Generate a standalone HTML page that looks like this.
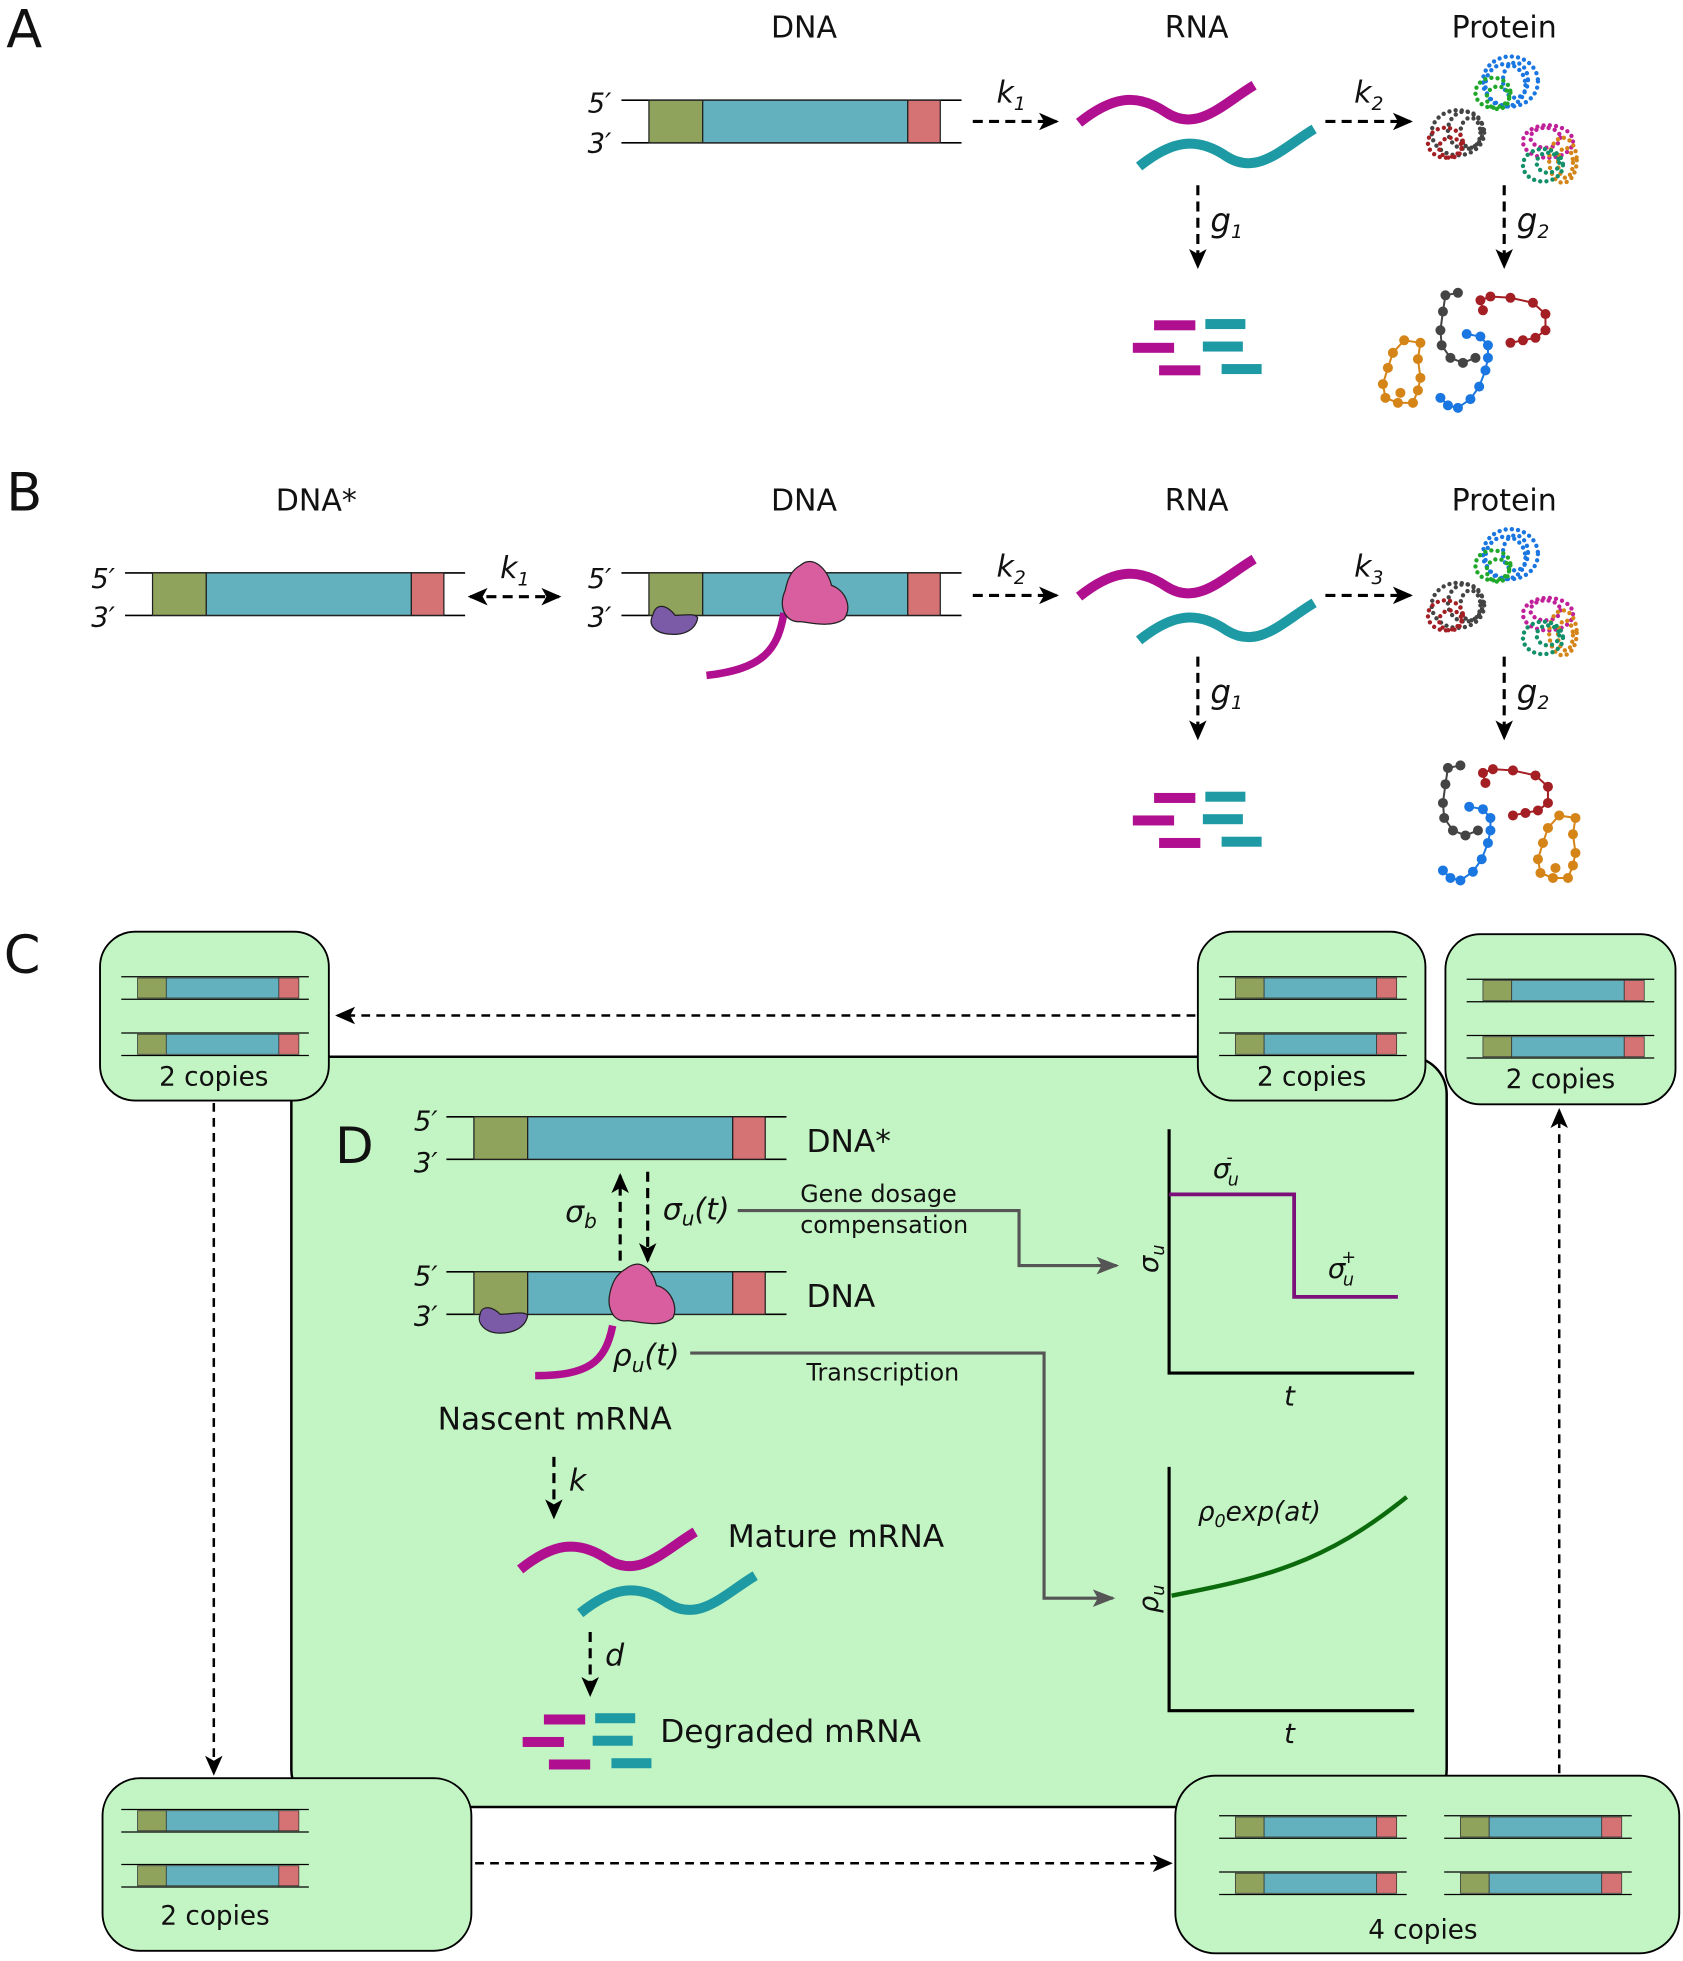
<!DOCTYPE html>
<html><head><meta charset="utf-8"><style>
html,body{margin:0;padding:0;background:#fff}
svg{display:block}
text{font-family:"DejaVu Sans","Liberation Sans",sans-serif;fill:#111}
.it{font-style:italic}
</style></head><body>
<svg width="1683" height="1961" viewBox="0 0 1346 1568" xmlns="http://www.w3.org/2000/svg">
<defs>
<marker id="ahs" markerWidth="16" markerHeight="14" refX="14" refY="7" orient="auto-start-reverse" markerUnits="userSpaceOnUse"><path d="M0,0 L16,7 L0,14 L4,7 Z" fill="#000"/></marker>
<marker id="ahg" markerWidth="18" markerHeight="14" refX="16" refY="7" orient="auto" markerUnits="userSpaceOnUse"><path d="M0,0 L18,7 L0,14 L4,7 Z" fill="#555"/></marker>
<g id="mini">
<line x1="0" y1="0" x2="150" y2="0" stroke="#000" stroke-width="1"/>
<line x1="0" y1="18" x2="150" y2="18" stroke="#000" stroke-width="1"/>
<rect x="13" y="1" width="23" height="16" fill="#8fa35c" stroke="#333" stroke-width="0.6"/>
<rect x="36" y="1" width="90" height="16" fill="#63b0bf" stroke="#333" stroke-width="0.6"/>
<rect x="126" y="1" width="16" height="16" fill="#d57273" stroke="#333" stroke-width="0.6"/>
</g>
<g id="gene">
<line x1="0" y1="0" x2="272" y2="0" stroke="#000" stroke-width="1.3"/>
<line x1="0" y1="34" x2="272" y2="34" stroke="#000" stroke-width="1.3"/>
<rect x="22" y="0" width="43" height="34" fill="#8fa35c" stroke="#222" stroke-width="1"/>
<rect x="65" y="0" width="164" height="34" fill="#63b0bf" stroke="#222" stroke-width="1"/>
<rect x="229" y="0" width="26" height="34" fill="#d57273" stroke="#222" stroke-width="1"/>
</g>
<g id="waves">
<path d="M0,20 C25,0 45,-5 70,12 C95,28 115,5 140,-10" fill="none" stroke="#b0108f" stroke-width="8"/>
<path d="M48,55 C73,35 93,30 118,47 C143,63 163,40 188,25" fill="none" stroke="#1d9aa4" stroke-width="8"/>
</g>
<g id="frag">
<rect x="17" y="0" width="33" height="8" fill="#b0108f"/>
<rect x="58" y="-1" width="32" height="8" fill="#1d9aa4"/>
<rect x="0" y="18" width="33" height="8" fill="#b0108f"/>
<rect x="56" y="17" width="32" height="8" fill="#1d9aa4"/>
<rect x="21" y="36" width="33" height="8" fill="#b0108f"/>
<rect x="71" y="35" width="32" height="8" fill="#1d9aa4"/>
</g>
<g id="prot" fill="none" stroke-linecap="round" stroke-width="3.5" stroke-dasharray="0 5">
<ellipse cx="70" cy="25" rx="22" ry="20" stroke="#1a76e0"/><ellipse cx="66" cy="28" rx="16" ry="17" stroke="#1a76e0"/><ellipse cx="74" cy="24" rx="10" ry="14" stroke="#1a76e0"/>
<ellipse cx="56" cy="34" rx="14" ry="12" stroke="#1fa82a"/><ellipse cx="60" cy="38" rx="9" ry="9" stroke="#1fa82a"/>
<ellipse cx="28" cy="66" rx="21" ry="18" stroke="#444"/><ellipse cx="34" cy="64" rx="14" ry="15" stroke="#444"/><ellipse cx="38" cy="66" rx="8" ry="12" stroke="#444"/>
<ellipse cx="18" cy="74" rx="14" ry="12" stroke="#a31f24"/><ellipse cx="22" cy="78" rx="9" ry="8" stroke="#a31f24"/>
<ellipse cx="100" cy="73" rx="20" ry="13" stroke="#c0209a"/><ellipse cx="98" cy="70" rx="12" ry="8" stroke="#c0209a"/>
<ellipse cx="112" cy="88" rx="11" ry="18" stroke="#d58418"/><ellipse cx="114" cy="90" rx="6" ry="12" stroke="#d58418"/>
<ellipse cx="96" cy="92" rx="16" ry="13" stroke="#12906a"/><ellipse cx="100" cy="90" rx="9" ry="8" stroke="#12906a"/>
</g>
<g id="orange">
<path d="M55,40 L68,42 L66,55 L68,70 L66,80 L62,90 L50,90 L40,86 L38,75 L42,62 L46,50 Z" fill="none" stroke="#d58418" stroke-width="1.6"/>
<g fill="#d58418"><circle cx="55" cy="40" r="4"/><circle cx="68" cy="42" r="4"/><circle cx="66" cy="55" r="4"/><circle cx="68" cy="70" r="4"/><circle cx="66" cy="80" r="4"/><circle cx="62" cy="90" r="4"/><circle cx="50" cy="90" r="4"/><circle cx="40" cy="86" r="4"/><circle cx="38" cy="75" r="4"/><circle cx="42" cy="62" r="4"/><circle cx="46" cy="50" r="4"/><circle cx="52" cy="82" r="4"/></g>
</g>
<g id="deg3" fill="none" stroke-width="1.6">
<path stroke="#444" d="M108,0 L98,2 L96,15 L94,30 L95,42 L102,52 L112,56 L122,52"/>
<path stroke="#1a76e0" d="M115,33 L126,35 L132,42 L132,52 L130,62 L125,75 L118,85 L108,92 L100,90 L94,84"/>
<path stroke="#a31f24" d="M128,14 L126,6 L134,3 L150,4 L168,8 L178,17 L178,30 L170,36 L160,38 L150,40"/>
<g fill="#444" stroke="none"><circle cx="108" cy="0" r="4"/><circle cx="98" cy="2" r="4"/><circle cx="96" cy="15" r="4"/><circle cx="94" cy="30" r="4"/><circle cx="95" cy="42" r="4"/><circle cx="102" cy="52" r="4"/><circle cx="112" cy="56" r="4"/><circle cx="122" cy="52" r="4"/></g>
<g fill="#1a76e0" stroke="none"><circle cx="115" cy="33" r="4"/><circle cx="126" cy="35" r="4"/><circle cx="132" cy="42" r="4"/><circle cx="132" cy="52" r="4"/><circle cx="130" cy="62" r="4"/><circle cx="125" cy="75" r="4"/><circle cx="118" cy="85" r="4"/><circle cx="108" cy="92" r="4"/><circle cx="100" cy="90" r="4"/><circle cx="94" cy="84" r="4"/></g>
<g fill="#a31f24" stroke="none"><circle cx="128" cy="14" r="4"/><circle cx="126" cy="6" r="4"/><circle cx="134" cy="3" r="4"/><circle cx="150" cy="4" r="4"/><circle cx="168" cy="8" r="4"/><circle cx="178" cy="17" r="4"/><circle cx="178" cy="30" r="4"/><circle cx="170" cy="36" r="4"/><circle cx="160" cy="38" r="4"/><circle cx="150" cy="40" r="4"/></g>
</g>
</defs>

<!-- Panel A -->
<text x="5" y="38" font-size="42">A</text>
<text x="643" y="30" font-size="24" text-anchor="middle">DNA</text>
<text x="957" y="30" font-size="24" text-anchor="middle">RNA</text>
<text x="1203" y="30" font-size="24" text-anchor="middle">Protein</text>
<text x="470" y="90" font-size="22" class="it">5′</text>
<text x="470" y="122" font-size="22" class="it">3′</text>
<use href="#gene" x="497" y="80"/>
<line x1="778" y1="97" x2="845" y2="97" stroke="#000" stroke-width="2.5" stroke-dasharray="8 5" marker-end="url(#ahs)"/>
<text x="797" y="82" font-size="24" class="it">k<tspan font-size="15" dy="6">1</tspan></text>
<use href="#waves" x="863" y="78"/>
<line x1="1060" y1="97" x2="1128" y2="97" stroke="#000" stroke-width="2.5" stroke-dasharray="8 5" marker-end="url(#ahs)"/>
<text x="1083" y="82" font-size="24" class="it">k<tspan font-size="15" dy="6">2</tspan></text>
<use href="#prot" x="1138" y="40"/>
<line x1="958" y1="148" x2="958" y2="213" stroke="#000" stroke-width="2.5" stroke-dasharray="8 5" marker-end="url(#ahs)"/>
<text x="968" y="185" font-size="26" class="it">g<tspan font-size="15" dy="5">1</tspan></text>
<line x1="1203" y1="148" x2="1203" y2="213" stroke="#000" stroke-width="2.5" stroke-dasharray="8 5" marker-end="url(#ahs)"/>
<text x="1213" y="185" font-size="26" class="it">g<tspan font-size="15" dy="5">2</tspan></text>
<use href="#frag" x="906" y="256"/>
<use href="#orange" x="1068" y="232"/>
<use href="#deg3" x="1058" y="234"/>

<!-- Panel B -->
<text x="5" y="408" font-size="42">B</text>
<text x="253" y="408" font-size="24" text-anchor="middle">DNA*</text>
<text x="643" y="408" font-size="24" text-anchor="middle">DNA</text>
<text x="957" y="408" font-size="24" text-anchor="middle">RNA</text>
<text x="1203" y="408" font-size="24" text-anchor="middle">Protein</text>
<text x="73" y="470" font-size="22" class="it">5′</text>
<text x="73" y="501" font-size="22" class="it">3′</text>
<use href="#gene" x="100" y="458"/>
<line x1="376" y1="477" x2="447" y2="477" stroke="#000" stroke-width="2.5" stroke-dasharray="8 5" marker-start="url(#ahs)" marker-end="url(#ahs)"/>
<text x="400" y="462" font-size="24" class="it">k<tspan font-size="15" dy="6">1</tspan></text>
<text x="470" y="470" font-size="22" class="it">5′</text>
<text x="470" y="501" font-size="22" class="it">3′</text>
<use href="#gene" x="497" y="458"/>
<path d="M522,492 C525,480 535,485 540,492 C548,492 556,490 558,494 C556,505 545,508 535,507 C524,506 518,500 522,492 Z" fill="#7b5aa8" stroke="#222" stroke-width="1"/>
<path d="M627,490 C622,520 610,535 565,540" fill="none" stroke="#b0108f" stroke-width="6"/>
<path d="M640,452 C650,443 662,455 665,468 C676,472 682,485 675,495 C665,502 650,498 640,497 C628,498 622,485 628,472 C630,462 633,456 640,452 Z" fill="#d95ea0" stroke="#222" stroke-width="1"/>
<line x1="778" y1="476" x2="845" y2="476" stroke="#000" stroke-width="2.5" stroke-dasharray="8 5" marker-end="url(#ahs)"/>
<text x="797" y="461" font-size="24" class="it">k<tspan font-size="15" dy="6">2</tspan></text>
<use href="#waves" x="863" y="457"/>
<line x1="1060" y1="476" x2="1128" y2="476" stroke="#000" stroke-width="2.5" stroke-dasharray="8 5" marker-end="url(#ahs)"/>
<text x="1083" y="461" font-size="24" class="it">k<tspan font-size="15" dy="6">3</tspan></text>
<use href="#prot" x="1138" y="418"/>
<line x1="958" y1="525" x2="958" y2="590" stroke="#000" stroke-width="2.5" stroke-dasharray="8 5" marker-end="url(#ahs)"/>
<text x="968" y="562" font-size="26" class="it">g<tspan font-size="15" dy="5">1</tspan></text>
<line x1="1203" y1="525" x2="1203" y2="590" stroke="#000" stroke-width="2.5" stroke-dasharray="8 5" marker-end="url(#ahs)"/>
<text x="1213" y="562" font-size="26" class="it">g<tspan font-size="15" dy="5">2</tspan></text>
<use href="#frag" x="906" y="634"/>
<use href="#deg3" x="1060" y="612"/>
<use href="#orange" x="1192" y="612"/>

<!-- Panel C -->
<text x="3" y="778" font-size="42">C</text>
<rect x="233" y="845" width="924" height="600" rx="30" fill="#c3f4c3" stroke="#000" stroke-width="2"/>
<rect x="80" y="745" width="183" height="135" rx="28" fill="#c3f4c3" stroke="#000" stroke-width="1.5"/>
<use href="#mini" x="97" y="781"/><use href="#mini" x="97" y="826"/>
<text x="171" y="868" font-size="21" text-anchor="middle">2 copies</text>
<rect x="958" y="745" width="182" height="135" rx="28" fill="#c3f4c3" stroke="#000" stroke-width="1.5"/>
<use href="#mini" x="975" y="781"/><use href="#mini" x="975" y="826"/>
<text x="1049" y="868" font-size="21" text-anchor="middle">2 copies</text>
<rect x="1156" y="747" width="184" height="136" rx="28" fill="#c3f4c3" stroke="#000" stroke-width="1.5"/>
<use href="#mini" x="1173" y="783"/><use href="#mini" x="1173" y="828"/>
<text x="1248" y="870" font-size="21" text-anchor="middle">2 copies</text>
<rect x="82" y="1422" width="295" height="138" rx="30" fill="#c3f4c3" stroke="#000" stroke-width="1.5"/>
<use href="#mini" x="97" y="1447"/><use href="#mini" x="97" y="1491"/>
<text x="172" y="1539" font-size="21" text-anchor="middle">2 copies</text>
<rect x="940" y="1420" width="403" height="142" rx="32" fill="#c3f4c3" stroke="#000" stroke-width="1.5"/>
<use href="#mini" x="975" y="1452"/><use href="#mini" x="975" y="1497"/>
<use href="#mini" x="1155" y="1452"/><use href="#mini" x="1155" y="1497"/>
<text x="1138" y="1550" font-size="21" text-anchor="middle">4 copies</text>
<line x1="956" y1="812" x2="270" y2="812" stroke="#000" stroke-width="2" stroke-dasharray="7 5" marker-end="url(#ahs)"/>
<line x1="171" y1="882" x2="171" y2="1418" stroke="#000" stroke-width="2" stroke-dasharray="7 5" marker-end="url(#ahs)"/>
<line x1="380" y1="1490" x2="936" y2="1490" stroke="#000" stroke-width="2" stroke-dasharray="7 5" marker-end="url(#ahs)"/>
<line x1="1247" y1="1418" x2="1247" y2="888" stroke="#000" stroke-width="2" stroke-dasharray="7 5" marker-end="url(#ahs)"/>

<!-- Panel D -->
<text x="268" y="930" font-size="40">D</text>
<text x="331" y="904" font-size="22" class="it">5′</text>
<text x="331" y="937" font-size="22" class="it">3′</text>
<use href="#gene" x="357" y="893"/>
<text x="645" y="921" font-size="25">DNA*</text>
<line x1="496" y1="1008" x2="496" y2="940" stroke="#000" stroke-width="2.5" stroke-dasharray="8 5" marker-end="url(#ahs)"/>
<line x1="518" y1="937" x2="518" y2="1008" stroke="#000" stroke-width="2.5" stroke-dasharray="8 5" marker-end="url(#ahs)"/>
<text x="452" y="977" font-size="24" class="it">σ<tspan font-size="16" dy="5">b</tspan></text>
<text x="530" y="975" font-size="24" class="it">σ<tspan font-size="16" dy="5">u</tspan><tspan dy="-5">(t)</tspan></text>
<text x="331" y="1028" font-size="22" class="it">5′</text>
<text x="331" y="1060" font-size="22" class="it">3′</text>
<use href="#gene" x="357" y="1017"/>
<text x="645" y="1045" font-size="25">DNA</text>
<path d="M384,1051 C385,1043 395,1045 400,1051 C408,1051 420,1048 422,1052 C420,1062 410,1066 400,1066 C388,1066 381,1058 384,1051 Z" fill="#7b5aa8" stroke="#222" stroke-width="1"/>
<path d="M490,1060 C484,1090 470,1100 428,1100" fill="none" stroke="#b0108f" stroke-width="6"/>
<path d="M500,1015 C512,1005 522,1015 525,1028 C536,1030 543,1045 538,1054 C528,1062 512,1057 502,1056 C490,1058 485,1045 488,1033 C490,1025 493,1019 500,1015 Z" fill="#d95ea0" stroke="#222" stroke-width="1"/>
<text x="490" y="1092" font-size="24" class="it">ρ<tspan font-size="16" dy="5">u</tspan><tspan dy="-5">(t)</tspan></text>
<polyline points="590,968 815,968 815,1012 893,1012" fill="none" stroke="#555" stroke-width="2.5" marker-end="url(#ahg)"/>
<text x="640" y="961" font-size="19">Gene dosage</text>
<text x="640" y="986" font-size="19">compensation</text>
<polyline points="552,1082 835,1082 835,1278 890,1278" fill="none" stroke="#555" stroke-width="2.5" marker-end="url(#ahg)"/>
<text x="645" y="1104" font-size="19">Transcription</text>
<text x="350" y="1143" font-size="25">Nascent mRNA</text>
<line x1="443" y1="1165" x2="443" y2="1213" stroke="#000" stroke-width="2.5" stroke-dasharray="8 5" marker-end="url(#ahs)"/>
<text x="455" y="1192" font-size="24" class="it">k</text>
<use href="#waves" x="416" y="1235"/>
<text x="582" y="1237" font-size="25">Mature mRNA</text>
<line x1="472" y1="1305" x2="472" y2="1355" stroke="#000" stroke-width="2.5" stroke-dasharray="8 5" marker-end="url(#ahs)"/>
<text x="484" y="1332" font-size="24" class="it">d</text>
<use href="#frag" x="418" y="1371"/>
<text x="528" y="1393" font-size="25">Degraded mRNA</text>
<!-- plot 1 -->
<polyline points="935,903 935,1098 1131,1098" fill="none" stroke="#000" stroke-width="2.5"/>
<polyline points="935,955 1035,955 1035,1037 1118,1037" fill="none" stroke="#7d0f7a" stroke-width="3"/>
<text x="970" y="942" font-size="22" class="it">σ<tspan font-size="14" dy="6" dx="-2">u</tspan><tspan font-size="14" dx="-10" dy="-18">-</tspan></text>
<text x="1062" y="1022" font-size="22" class="it">σ<tspan font-size="14" dy="6" dx="-2">u</tspan><tspan font-size="14" dx="-10" dy="-18">+</tspan></text>
<text x="0" y="0" font-size="22" class="it" transform="translate(926,1018) rotate(-90)">σ<tspan font-size="14" dy="5">u</tspan></text>
<text x="1027" y="1124" font-size="22" class="it">t</text>
<!-- plot 2 -->
<polyline points="935,1173 935,1368 1131,1368" fill="none" stroke="#000" stroke-width="2.5"/>
<path d="M937,1276 C1010,1262 1060,1250 1125,1197" fill="none" stroke="#0b6a0b" stroke-width="3.5"/>
<text x="958" y="1216" font-size="21" class="it">ρ<tspan font-size="14" dy="5">0</tspan><tspan dy="-5">exp(at)</tspan></text>
<text x="0" y="0" font-size="22" class="it" transform="translate(926,1290) rotate(-90)">ρ<tspan font-size="14" dy="5">u</tspan></text>
<text x="1027" y="1394" font-size="22" class="it">t</text>
</svg>
</body></html>
